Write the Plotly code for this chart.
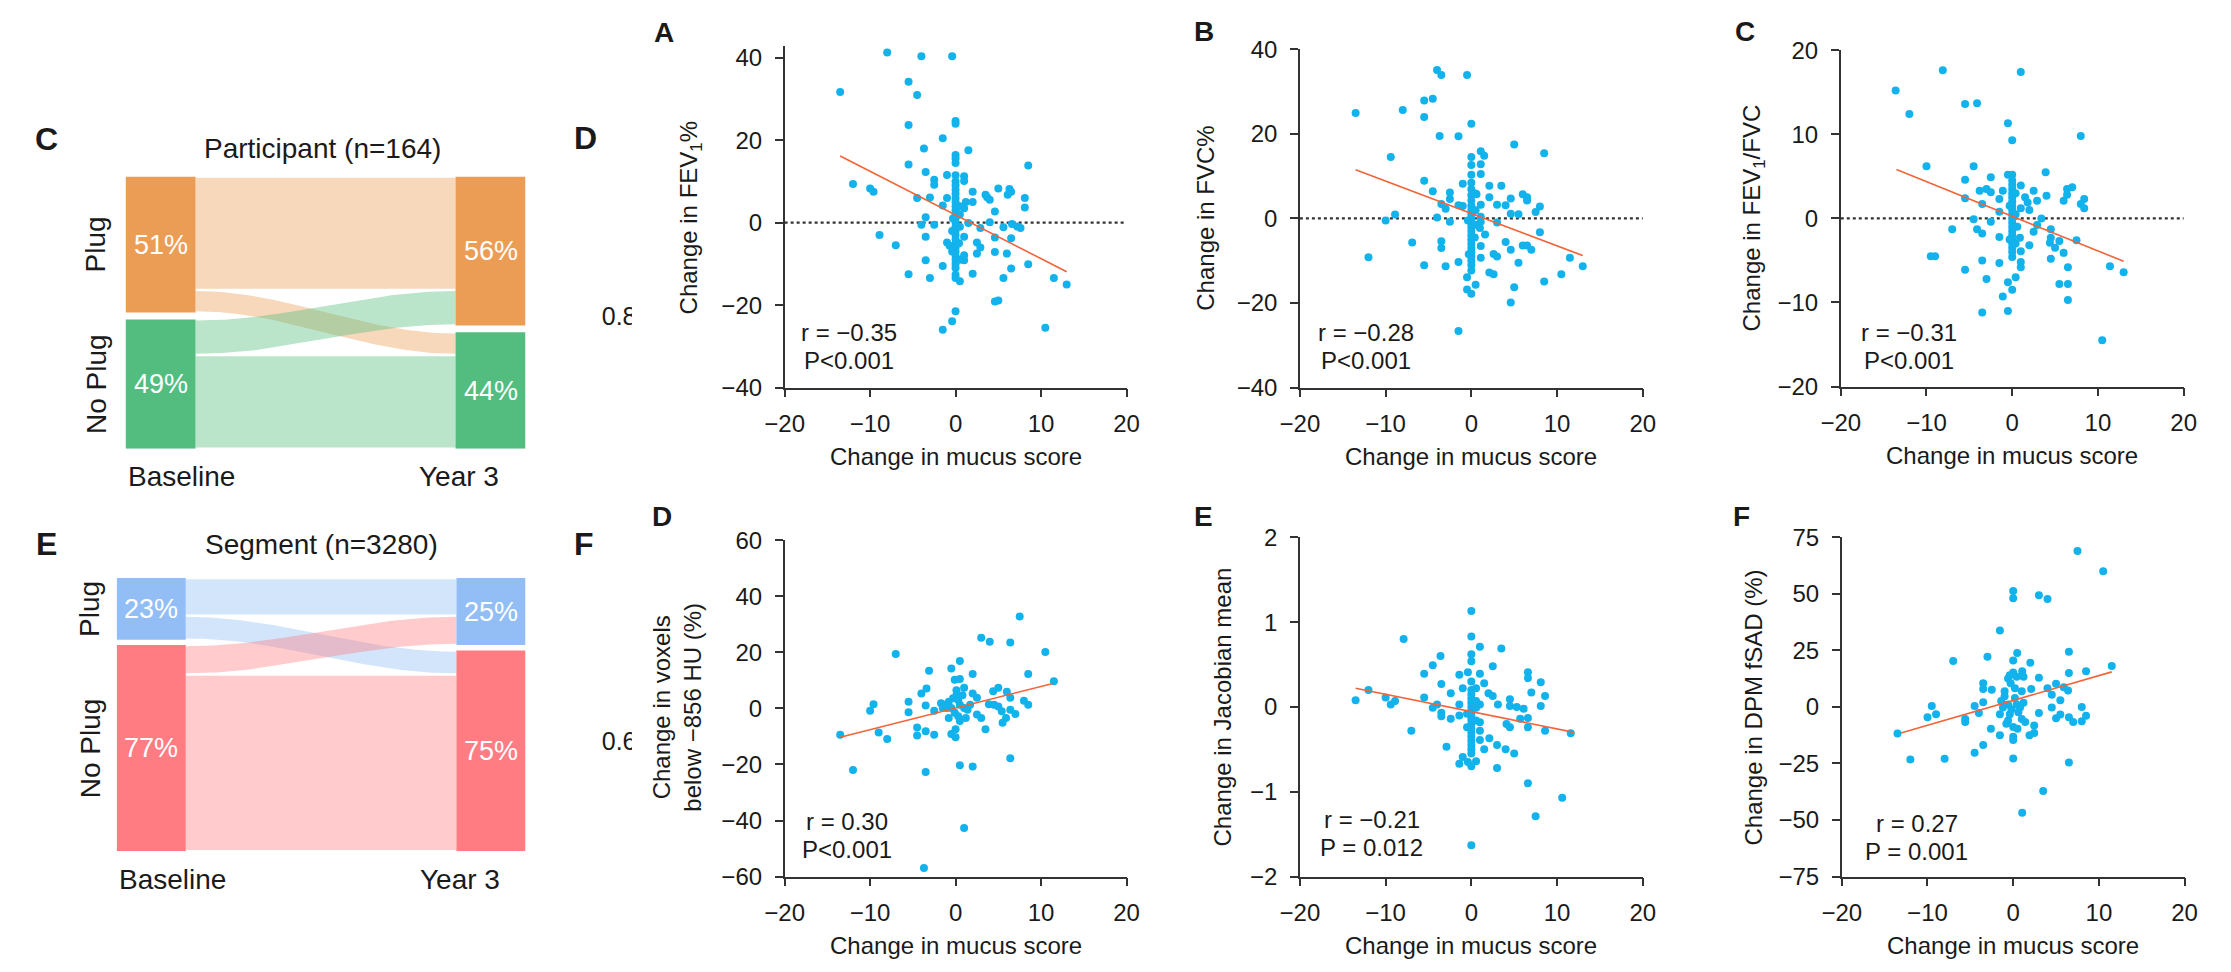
import numpy as np
import plotly.graph_objects as go

W, H = 2231, 972
OFF = 8   # the page body margin shifts the figure by 8 px right and down
FONT = "Liberation Sans, Arial, Helvetica, sans-serif"
INK = "#1a1a1a"
DOT = "#12b2ec"
FIT = "#f0643a"
AXIS = "#333333"

# ---------------- sankey data (baseline -> year 3) ----------------
flow_src = ["Plug", "Plug", "No Plug", "No Plug"]
flow_dst = ["Plug", "No Plug", "Plug", "No Plug"]
participant_counts = [70, 14, 22, 58]      # n = 164
segment_counts = [459, 295, 361, 2165]     # n = 3280
states = ["Plug", "No Plug"]
participant_colors = {"Plug": (236, 157, 85), "No Plug": (82, 189, 126)}
segment_colors = {"Plug": (146, 190, 245), "No Plug": (254, 124, 130)}

# ---------------- scatter data: change in mucus score vs ... ----------------
fev1_pts = [(-8.0, 41.3), (-4.0, 40.4), (-0.4, 40.4), (-13.5, 31.7), (-5.5, 34.2), (-4.5, 31.0), (-5.5, 23.7),
            (0.0, 24.7), (0.0, 24.0), (-1.5, 20.5), (-3.7, 18.0), (1.5, 17.6), (0.0, 16.4), (0.0, 15.6),
            (0.0, 14.5), (-5.5, 14.1), (8.5, 13.9), (-3.5, 12.3), (-1.0, 11.6), (-2.5, 10.4), (-2.5, 9.2),
            (0.0, 11.5), (1.0, 11.3), (1.0, 10.1), (-12.0, 9.4), (-10.0, 8.3), (-9.6, 7.5), (5.0, 8.3),
            (6.3, 8.2), (6.5, 7.5), (6.1, 6.8), (2.0, 7.5), (3.5, 6.8), (3.7, 6.2), (4.0, 5.6), (-4.5, 6.0),
            (-3.0, 6.1), (-1.0, 6.0), (8.1, 6.0), (8.1, 3.7), (2.0, 5.0), (-1.5, 4.2), (4.6, 2.7), (-3.5, 1.3),
            (1.2, 5.0), (1.0, 3.5), (-4.0, -0.5), (-2.5, -0.5), (4.0, 0.1), (1.5, -0.1), (2.9, -1.3),
            (5.6, -1.1), (6.6, -0.3), (7.2, -0.9), (7.6, -1.3), (-8.9, -3.0), (-3.5, -3.4), (1.0, -3.4),
            (4.6, -3.6), (6.5, -3.8), (-7.0, -5.5), (2.5, -4.8), (2.9, -6.0), (2.5, -7.5), (4.6, -7.1),
            (6.0, -7.5), (-1.0, -4.8), (-0.7, -5.6), (1.0, -7.9), (1.0, -9.1), (-3.5, -9.1), (-1.5, -10.5),
            (8.5, -10.1), (6.5, -11.1), (-5.5, -12.5), (-3.0, -13.4), (2.0, -12.4), (5.6, -13.4), (0.0, -12.6),
            (0.0, -13.4), (0.5, -14.2), (11.5, -13.4), (13.0, -15.0), (4.6, -19.1), (5.0, -18.9), (0.0, -21.5),
            (-0.4, -23.9), (-1.5, -26.0), (10.5, -25.5),
            (0.0, 10.0), (0.0, 9.0), (0.0, 8.0), (0.0, 7.0), (0.0, 6.0), (0.0, 5.0), (0.0, 4.0), (0.0, 3.0),
            (0.0, 2.0), (0.0, 1.0), (0.0, 0.0), (0.0, -1.0), (0.0, -2.0), (0.0, -3.0), (0.0, -4.0), (0.0, -5.0),
            (0.0, -6.0), (0.0, -7.0), (0.0, -8.0), (0.0, -9.0), (0.0, -10.0), (0.0, -11.0), (0.5, 4.0),
            (0.5, 2.0), (0.5, -1.0), (0.4, -5.0), (-0.4, -2.0), (-0.4, -7.0), (0.5, -9.0), (-0.3, 1.0)]
fvc_pts = [(-4.0, 35.1), (-3.5, 33.9), (-0.5, 33.9), (-4.5, 28.3), (-5.5, 27.9), (-8.0, 25.6), (-13.5, 24.9),
           (-5.5, 24.0), (0.0, 22.4), (-3.7, 19.5), (-1.5, 19.4), (5.0, 17.5), (8.5, 15.4), (1.1, 15.9),
           (1.5, 14.8), (0.0, 14.5), (-9.4, 14.5), (0.0, 12.6), (1.1, 12.8), (0.0, 10.3), (1.1, 10.5),
           (-5.5, 8.9), (-1.0, 8.2), (2.1, 7.7), (3.5, 7.7), (-4.5, 6.4), (-2.5, 6.1), (-2.5, 4.6), (6.0, 5.7),
           (6.5, 5.0), (6.5, 4.2), (4.6, 4.7), (2.1, 5.0), (0.6, 5.7), (-3.5, 3.4), (-3.0, 2.3), (-1.5, 3.1),
           (-1.0, 2.9), (1.1, 3.2), (3.0, 3.2), (4.0, 3.1), (8.0, 2.8), (7.5, 1.5), (4.6, 1.1), (5.5, 1.0),
           (-8.9, 0.9), (-10.0, -0.5), (-4.0, 0.2), (-2.5, -0.8), (1.1, 0.4), (1.1, -0.8), (3.0, -1.0),
           (8.0, -3.3), (1.6, -3.8), (-6.9, -5.7), (-3.5, -5.4), (-3.5, -7.0), (4.0, -5.6), (4.6, -7.4),
           (6.0, -6.4), (6.5, -6.4), (7.0, -7.4), (1.1, -6.5), (1.1, -9.3), (2.6, -8.4), (3.0, -9.0),
           (-12.0, -9.2), (11.5, -9.3), (-5.5, -11.1), (-3.0, -11.3), (-1.5, -10.3), (5.5, -10.5), (2.1, -12.8),
           (2.6, -13.2), (10.5, -13.2), (13.0, -11.3), (8.5, -14.9), (-0.5, -13.9), (0.0, -12.3), (0.5, -15.7),
           (-0.5, -16.8), (0.0, -17.8), (5.0, -16.3), (4.6, -19.9), (-1.5, -26.6),
           (0.0, 8.4), (0.0, 6.9), (0.0, 5.5), (0.0, 4.2), (0.0, 3.0), (0.0, 2.0), (0.0, 1.0), (0.0, 0.0),
           (0.0, -1.0), (0.0, -2.0), (0.0, -3.0), (0.0, -4.0), (0.0, -5.0), (0.0, -6.0), (0.0, -7.0),
           (0.0, -8.0), (0.0, -9.0), (0.0, -10.0), (0.0, -11.0), (0.5, 5.9), (0.5, 1.9), (0.5, -1.5),
           (1.0, -2.3), (-0.4, -0.5), (0.4, -4.5), (-0.3, -8.5)]
ratio_pts = [(-8.1, 17.6), (1.0, 17.4), (-13.6, 15.2), (-12.0, 12.4), (-5.5, 13.6), (-4.1, 13.7), (-0.5, 11.3),
             (0.0, 9.3), (8.0, 9.8), (-10.0, 6.2), (-4.5, 6.2), (3.9, 5.5), (-5.5, 4.6), (-2.5, 4.9), (-0.5, 5.2),
             (0.0, 5.2), (-3.8, 3.3), (-3.0, 3.5), (-2.5, 3.1), (-1.1, 3.3), (1.0, 3.9), (2.5, 3.3), (4.0, 2.7),
             (6.4, 3.5), (7.0, 3.7), (6.4, 2.8), (6.0, 2.1), (-5.5, 2.4), (-1.5, 2.3), (1.5, 2.5), (1.8, 1.9),
             (2.9, 2.1), (8.4, 2.3), (8.0, 1.7), (8.4, 1.2), (-3.5, 1.7), (-1.5, 0.8), (1.0, 1.2), (2.0, 1.0),
             (-4.5, -0.1), (-2.5, -0.4), (3.4, 0.0), (2.9, -0.8), (-7.0, -1.3), (-4.1, -1.3), (-3.5, -1.8),
             (-1.5, -2.2), (0.9, -2.3), (2.5, -1.6), (4.5, -1.3), (4.5, -2.3), (4.4, -2.9), (5.5, -2.7),
             (5.0, -3.5), (7.5, -2.6), (2.0, -3.2), (1.0, -3.9), (-9.5, -4.5), (-9.0, -4.5), (6.0, -4.1),
             (-3.5, -5.0), (-1.5, -5.3), (0.0, -4.6), (1.0, -5.2), (1.0, -5.8), (4.5, -4.8), (-5.5, -6.1),
             (6.5, -5.8), (11.4, -5.7), (13.0, -6.4), (-3.0, -7.2), (0.4, -7.0), (-0.5, -7.6), (5.5, -7.8),
             (6.5, -7.8), (0.0, -8.5), (-1.1, -9.3), (6.5, -9.7), (-3.5, -11.2), (-0.5, -11.0), (10.5, -14.5),
             (0.0, 4.5), (0.0, 4.0), (0.0, 3.5), (0.0, 3.0), (0.0, 2.5), (0.0, 2.0), (0.0, 1.5), (0.0, 1.0),
             (0.0, 0.5), (0.0, 0.0), (0.0, -0.5), (0.0, -1.0), (0.0, -1.5), (0.0, -2.0), (0.0, -2.5),
             (0.0, -3.0), (0.0, -3.5), (0.0, -4.0), (0.4, 3.0), (0.4, 0.5), (-0.3, -2.5), (0.4, -3.0),
             (-0.3, 1.5), (0.6, -1.0)]
voxel_pts = [(7.5, 32.8), (3.0, 25.2), (4.0, 23.8), (6.4, 23.5), (10.5, 20.1), (-7.0, 19.4), (0.5, 16.9),
             (-0.5, 14.2), (-3.1, 13.4), (2.0, 12.3), (8.5, 12.3), (-0.1, 10.2), (0.5, 10.5), (11.5, 9.7),
             (-3.4, 7.1), (-4.0, 5.3), (1.0, 7.4), (2.0, 5.3), (2.5, 3.8), (5.0, 7.4), (4.4, 6.1), (6.0, 5.9),
             (6.4, 3.8), (-5.5, 2.4), (-5.5, -1.4), (-9.6, 1.5), (-10.0, -0.8), (-3.5, 1.0), (-2.5, -0.8),
             (3.9, 1.5), (4.5, 1.3), (5.0, 0.7), (8.0, 2.7), (8.5, 1.3), (5.4, -1.0), (6.4, -0.5), (7.0, -2.0),
             (2.5, -2.2), (3.0, -3.4), (5.9, -3.4), (5.5, -5.1), (3.5, -7.4), (-4.5, -6.8), (-4.5, -9.7),
             (-3.5, -8.2), (-2.5, -9.4), (-9.0, -8.6), (-13.5, -9.4), (-8.0, -10.9), (-0.5, -9.1), (0.0, -10.3),
             (0.0, -7.4), (6.4, -17.8), (0.5, -20.3), (2.0, -20.7), (-12.0, -22.0), (-3.5, -22.7), (1.0, -42.7),
             (-3.7, -56.9),
             (-1.7, 1.8), (-1.2, 1.3), (-0.8, 2.4), (-0.3, 3.6), (0.1, 4.7), (0.3, 3.0), (0.5, 1.3), (1.0, 0.1),
             (1.4, -0.5), (-0.5, 0.1), (-1.0, 0.1), (-0.1, -1.6), (0.3, -2.8), (0.5, -4.5), (1.2, -3.4),
             (-0.8, -3.4), (1.7, 1.3), (-1.5, 0.1), (0.1, 6.5), (0.8, 4.7)]
jacobian_pts = [(0.0, 1.13), (0.0, 0.83), (-7.9, 0.80), (1.0, 0.71), (3.5, 0.69), (-3.6, 0.60), (0.0, 0.62),
                (0.0, 0.54), (-4.5, 0.49), (2.5, 0.48), (-5.5, 0.39), (-1.4, 0.38), (-0.4, 0.41), (1.0, 0.39),
                (6.6, 0.41), (6.6, 0.34), (-3.5, 0.27), (1.5, 0.28), (8.1, 0.29), (-12.0, 0.20), (-1.0, 0.22),
                (-2.4, 0.16), (2.0, 0.16), (2.5, 0.13), (7.0, 0.17), (8.6, 0.13), (-5.5, 0.11), (-10.0, 0.11),
                (-9.4, 0.03), (-8.9, 0.07), (-13.5, 0.08), (-4.0, 0.03), (-1.4, 0.03), (3.1, 0.03), (4.5, 0.09),
                (4.5, 0.01), (5.3, 0.0), (6.1, -0.02), (8.1, 0.01), (1.0, 0.03), (-4.5, -0.01), (-3.5, -0.07),
                (-3.5, -0.11), (-2.4, -0.14), (-1.4, -0.10), (6.6, -0.13), (5.7, -0.14), (4.1, -0.20),
                (4.5, -0.24), (6.6, -0.24), (8.6, -0.28), (11.6, -0.31), (-7.0, -0.28), (1.0, -0.28),
                (2.1, -0.37), (1.0, -0.39), (-2.9, -0.47), (1.5, -0.50), (3.0, -0.45), (4.0, -0.50),
                (5.0, -0.55), (-1.0, -0.59), (-1.4, -0.67), (-0.4, -0.65), (0.55, -0.64), (0.0, -0.70),
                (3.0, -0.72), (6.6, -0.90), (10.6, -1.07), (7.5, -1.29), (0.0, -1.63),
                (0.0, 0.30), (0.0, 0.20), (0.0, 0.15), (0.0, 0.10), (0.0, 0.05), (0.0, 0.0), (0.0, -0.05),
                (0.0, -0.10), (0.0, -0.15), (0.0, -0.20), (0.0, -0.25), (0.0, -0.30), (0.0, -0.35), (0.0, -0.40),
                (0.0, -0.45), (0.0, -0.50), (0.0, -0.55), (0.55, 0.22), (0.55, -0.01), (0.55, -0.16),
                (-0.5, -0.24), (-0.5, -0.08), (1.0, -0.18), (0.55, 0.07)]
fsad_pts = [(7.5, 68.9), (10.5, 60.0), (0.0, 51.3), (0.0, 48.1), (3.0, 49.4), (4.0, 47.7), (-1.55, 33.8),
            (0.47, 23.8), (0.0, 20.5), (6.5, 24.4), (-3.0, 22.2), (-7.0, 20.3), (2.0, 19.5), (11.5, 18.1),
            (8.5, 15.8), (6.5, 15.0), (1.05, 15.8), (0.0, 15.2), (3.0, 12.9), (-0.6, 12.6), (-3.5, 10.5),
            (-3.5, 7.9), (5.0, 10.2), (5.9, 8.7), (6.4, 7.3), (4.0, 8.3), (-2.5, 7.6), (1.0, 6.9), (2.1, 7.9),
            (4.5, 5.4), (5.5, 2.9), (-3.5, 2.1), (4.5, -0.3), (-4.5, 0.4), (-9.5, 0.4), (8.0, 0.0), (-9.0, -3.2),
            (-10.0, -4.6), (-4.0, -2.7), (3.0, -2.7), (5.5, -3.4), (5.0, -5.0), (6.5, -4.6), (7.0, -6.7),
            (8.5, -3.9), (8.0, -6.3), (-5.6, -5.3), (-5.6, -6.7), (1.4, -6.7), (2.45, -8.2), (-2.6, -9.6),
            (0.5, -9.6), (-1.55, -12.5), (1.9, -12.5), (2.45, -11.5), (0.0, -13.2), (0.0, -14.6), (-13.5, -11.7),
            (-3.5, -16.8), (-4.5, -20.3), (-12.0, -23.2), (-8.0, -22.9), (0.0, -22.8), (6.5, -24.6),
            (3.5, -37.2), (1.05, -46.8),
            (-1.4, 2.6), (-1.0, 4.7), (-0.6, 1.1), (-0.4, -3.2), (-0.2, -1.0), (0.2, 4.0), (0.4, 1.1),
            (0.8, -0.3), (1.2, 1.9), (0.6, -2.4), (-0.6, -6.0), (0.0, -8.9), (-1.0, 6.9), (-0.3, 10.5),
            (0.2, 8.3), (-0.4, 14.0), (0.4, 13.3), (1.2, 13.3), (-1.2, -0.3), (-0.8, -7.4), (1.0, -5.3),
            (-1.55, -3.2)]

# fitted regression lines (end points)
fev1_fit = ([-13.5, 13.0], [16.2, -11.9])
fvc_fit = ([-13.5, 13.0], [11.5, -8.8])
ratio_fit = ([-13.5, 13.0], [5.8, -5.1])
voxel_fit = ([-13.5, 11.5], [-10.3, 9.0])
jacobian_fit = ([-13.5, 12.0], [0.22, -0.30])
fsad_fit = ([-13.1, 11.5], [-11.5, 15.5])

stats = {
    "A": ("r = −0.35", "P&lt;0.001"),
    "B": ("r = −0.28", "P&lt;0.001"),
    "C": ("r = −0.31", "P&lt;0.001"),
    "D": ("r = 0.30", "P&lt;0.001"),
    "E": ("r = −0.21", "P = 0.012"),
    "F": ("r = 0.27", "P = 0.001"),
}
x_ticks = [-20, -10, 0, 10, 20]

# labels of the neighbouring figure that are cut by the panel edge
stray_labels = ["0.8", "0.6"]


def px(x):
    return (x - OFF) / W


def py(y):
    return 1 - (y - OFF) / H


def minus(v):
    return f"{v:g}".replace("-", "−")


fig = go.Figure()
layout = {"shapes": []}
notes = []


def note(text, x, y, size=24, bold=False, color=INK, angle=0, xanchor="center"):
    if bold:
        text = f"<b>{text}</b>"
    notes.append(dict(text=text, x=px(x), y=py(y), xref="paper", yref="paper", showarrow=False,
                      xanchor=xanchor, yanchor="middle", textangle=angle,
                      font=dict(family=FONT, size=size, color=color)))


# ---------------- alluvial (sankey-like) panels ----------------
def add_alluvial(n, counts, colors, xpix, ypix, bw, gap, label_x):
    xa, ya = f"x{n}", f"y{n}"
    span = 100 + gap
    layout[f"xaxis{n}"] = dict(domain=[px(xpix[0]), px(xpix[1])], range=[0, 1], visible=False,
                               anchor=ya, fixedrange=True)
    layout[f"yaxis{n}"] = dict(domain=[py(ypix[1]), py(ypix[0])], range=[span, 0], visible=False,
                               anchor=xa, fixedrange=True)
    total = sum(counts)
    pct = [100 * c / total for c in counts]
    left = {s: sum(p for p, a in zip(pct, flow_src) if a == s) for s in states}
    right = {s: sum(p for p, b in zip(pct, flow_dst) if b == s) for s in states}
    left_top = {"Plug": 0, "No Plug": left["Plug"] + gap}
    right_top = {"Plug": 0, "No Plug": right["Plug"] + gap}
    lcur, rcur = dict(left_top), dict(right_top)

    t = np.linspace(0, 1, 80)
    s = (1 - np.cos(np.pi * t)) / 2
    xs = bw + (1 - 2 * bw) * t
    inset = 0.45
    for p, a, b in zip(pct, flow_src, flow_dst):
        y0, y1 = lcur[a], rcur[b]
        lcur[a] += p
        rcur[b] += p
        top = y0 + (y1 - y0) * s + inset
        bot = top + p - 2 * inset
        r, g, bl = colors[a]
        fig.add_trace(go.Scatter(x=np.r_[xs, xs[::-1]], y=np.r_[top, bot[::-1]], fill="toself",
                                 fillcolor=f"rgba({r},{g},{bl},0.4)", line=dict(width=0), mode="lines",
                                 hoverinfo="skip", xaxis=xa, yaxis=ya))

    for tops, vals, x0 in ((left_top, left, 0), (right_top, right, 1 - bw)):
        for st in states:
            r, g, bl = colors[st]
            layout["shapes"].append(dict(
                type="rect", xref=xa, yref=ya, x0=x0, x1=x0 + bw, y0=tops[st], y1=tops[st] + vals[st],
                fillcolor=f"rgb({r},{g},{bl})", line=dict(width=0), layer="above"))
            notes.append(dict(text=f"{vals[st]:.0f}%", x=x0 + bw / 2, y=tops[st] + vals[st] / 2, xref=xa, yref=ya,
                              showarrow=False, font=dict(family=FONT, size=27, color="white")))
    for st in states:
        mid = ypix[0] + (left_top[st] + left[st] / 2) / span * (ypix[1] - ypix[0])
        note(st, label_x, mid, size=28, angle=-90)


add_alluvial(7, participant_counts, participant_colors, (107, 513), (167, 447), 0.175, 2.6, 77)
add_alluvial(8, segment_counts, segment_colors, (98, 513), (580, 861), 0.169, 2.0, 71)

note("C", 27, 128, size=32, bold=True)
note("Participant (n=164)", 307, 138, size=28)
note("Baseline", 107, 475, size=28, xanchor="left")
note("Year 3", 445, 475, size=28)
note("E", 27, 545, size=32, bold=True)
note("Segment (n=3280)", 306, 545, size=28)
note("Baseline", 98, 890, size=28, xanchor="left")
note("Year 3", 446, 890, size=28)

# stray labels of the neighbouring figure, cut off by the white edge of the next panel
note("D", 574, 127, size=32, bold=True)
note("F", 572, 545, size=32, bold=True)
layout["xaxis9"] = dict(domain=[px(570), px(660)], range=[570, 660], visible=False, anchor="y9", fixedrange=True)
layout["yaxis9"] = dict(domain=[0, 1], range=[H + OFF, OFF], visible=False, anchor="x9", fixedrange=True)
fig.add_trace(go.Scatter(x=[608, 608], y=[313, 750], text=stray_labels, mode="text", textposition="middle center",
                         textfont=dict(family=FONT, size=25, color=INK), hoverinfo="skip",
                         xaxis="x9", yaxis="y9"))
for yc in (313, 750):
    layout["shapes"].append(dict(type="rect", xref="paper", yref="paper", x0=px(621), x1=px(650),
                                 y0=py(yc + 18), y1=py(yc - 18), fillcolor="white", line=dict(width=0),
                                 layer="above"))


# ---------------- scatter panels ----------------
def add_panel(n, letter, pts, fit, xpix, ypix, yrange, yticks, ytitle, tpos, letter_pos, stat_pos, zero_line):
    xa, ya = ("x", "y") if n == 1 else (f"x{n}", f"y{n}")
    key = "" if n == 1 else str(n)
    axis_style = dict(showline=True, linecolor=AXIS, linewidth=1.5, ticks="outside", ticklen=8, tickwidth=1.5,
                      tickcolor=AXIS, showgrid=False, zeroline=False, fixedrange=True,
                      tickfont=dict(family=FONT, size=24, color=INK))
    layout[f"xaxis{key}"] = dict(domain=[px(xpix[0]), px(xpix[1])], range=[-20, 20], tickvals=x_ticks,
                                 ticktext=[minus(v) for v in x_ticks], anchor=ya, ticklabelstandoff=6,
                                 **axis_style)
    layout[f"yaxis{key}"] = dict(domain=[py(ypix[1]), py(ypix[0])], range=yrange, tickvals=yticks,
                                 ticktext=[minus(v) for v in yticks], anchor=xa, ticklabelstandoff=8,
                                 **axis_style)
    xs, ys = zip(*pts)
    if zero_line:
        layout["shapes"].append(dict(
            type="line", xref=f"{xa} domain", yref=ya, x0=0, x1=1, y0=0, y1=0,
            line=dict(color=AXIS, width=2.2, dash="dot"), layer="below"))
    fig.add_trace(go.Scatter(x=xs, y=ys, mode="markers", marker=dict(size=8, color=DOT),
                             xaxis=xa, yaxis=ya, hoverinfo="skip"))
    fig.add_trace(go.Scatter(x=fit[0], y=fit[1], mode="lines", line=dict(color=FIT, width=1.6),
                             xaxis=xa, yaxis=ya, hoverinfo="skip"))
    note(letter, letter_pos[0], letter_pos[1], size=28, bold=True)
    note(ytitle, tpos[0], tpos[1], angle=-90)
    cx = (xpix[0] + xpix[1]) / 2
    note("Change in mucus score", cx, ypix[1] + 71)
    note(stats[letter][0], stat_pos[0], stat_pos[1])
    note(stats[letter][1], stat_pos[0], stat_pos[1] + 29)


add_panel(1, "A", fev1_pts, fev1_fit, (776, 1123), (33, 384), [-40, 42.8], [-40, -20, 0, 20, 40],
          "Change in FEV<sub>1</sub>%", (680, 210), (654, 19), (841, 327), True)
add_panel(2, "B", fvc_pts, fvc_fit, (1299, 1647), (36, 384), [-40, 40], [-40, -20, 0, 20, 40],
          "Change in FVC%", (1203, 210), (1202, 18), (1366, 327), True)
add_panel(3, "C", ratio_pts, ratio_fit, (1848, 2196), (37, 383), [-20, 20], [-20, -10, 0, 10, 20],
          "Change in FEV<sub>1</sub>/FVC", (1759, 210), (1751, 18), (1917, 327), True)
add_panel(4, "D", voxel_pts, voxel_fit, (776, 1123), (541, 887), [-60, 60], [-60, -40, -20, 0, 20, 40, 60],
          "Change in voxels<br>below −856 HU (%)", (667, 713), (652, 517), (839, 830), False)
add_panel(5, "E", jacobian_pts, jacobian_fit, (1299, 1647), (538, 887), [-2, 2], [-2, -1, 0, 1, 2],
          "Change in Jacobian mean", (1220, 713), (1201, 517), (1372, 828), False)
add_panel(6, "F", fsad_pts, fsad_fit, (1849, 2197), (538, 887), [-75, 75], [-75, -50, -25, 0, 25, 50, 75],
          "Change in DPM fSAD (%)", (1759, 713), (1747, 517), (1925, 832), False)

fig.update_layout(
    width=W, height=H,
    margin=dict(l=0, r=0, t=0, b=0),
    paper_bgcolor="white", plot_bgcolor="rgba(0,0,0,0)",
    showlegend=False,
    font=dict(family=FONT, color=INK),
    annotations=notes,
    **layout,
)

fig.write_html("out.html")
